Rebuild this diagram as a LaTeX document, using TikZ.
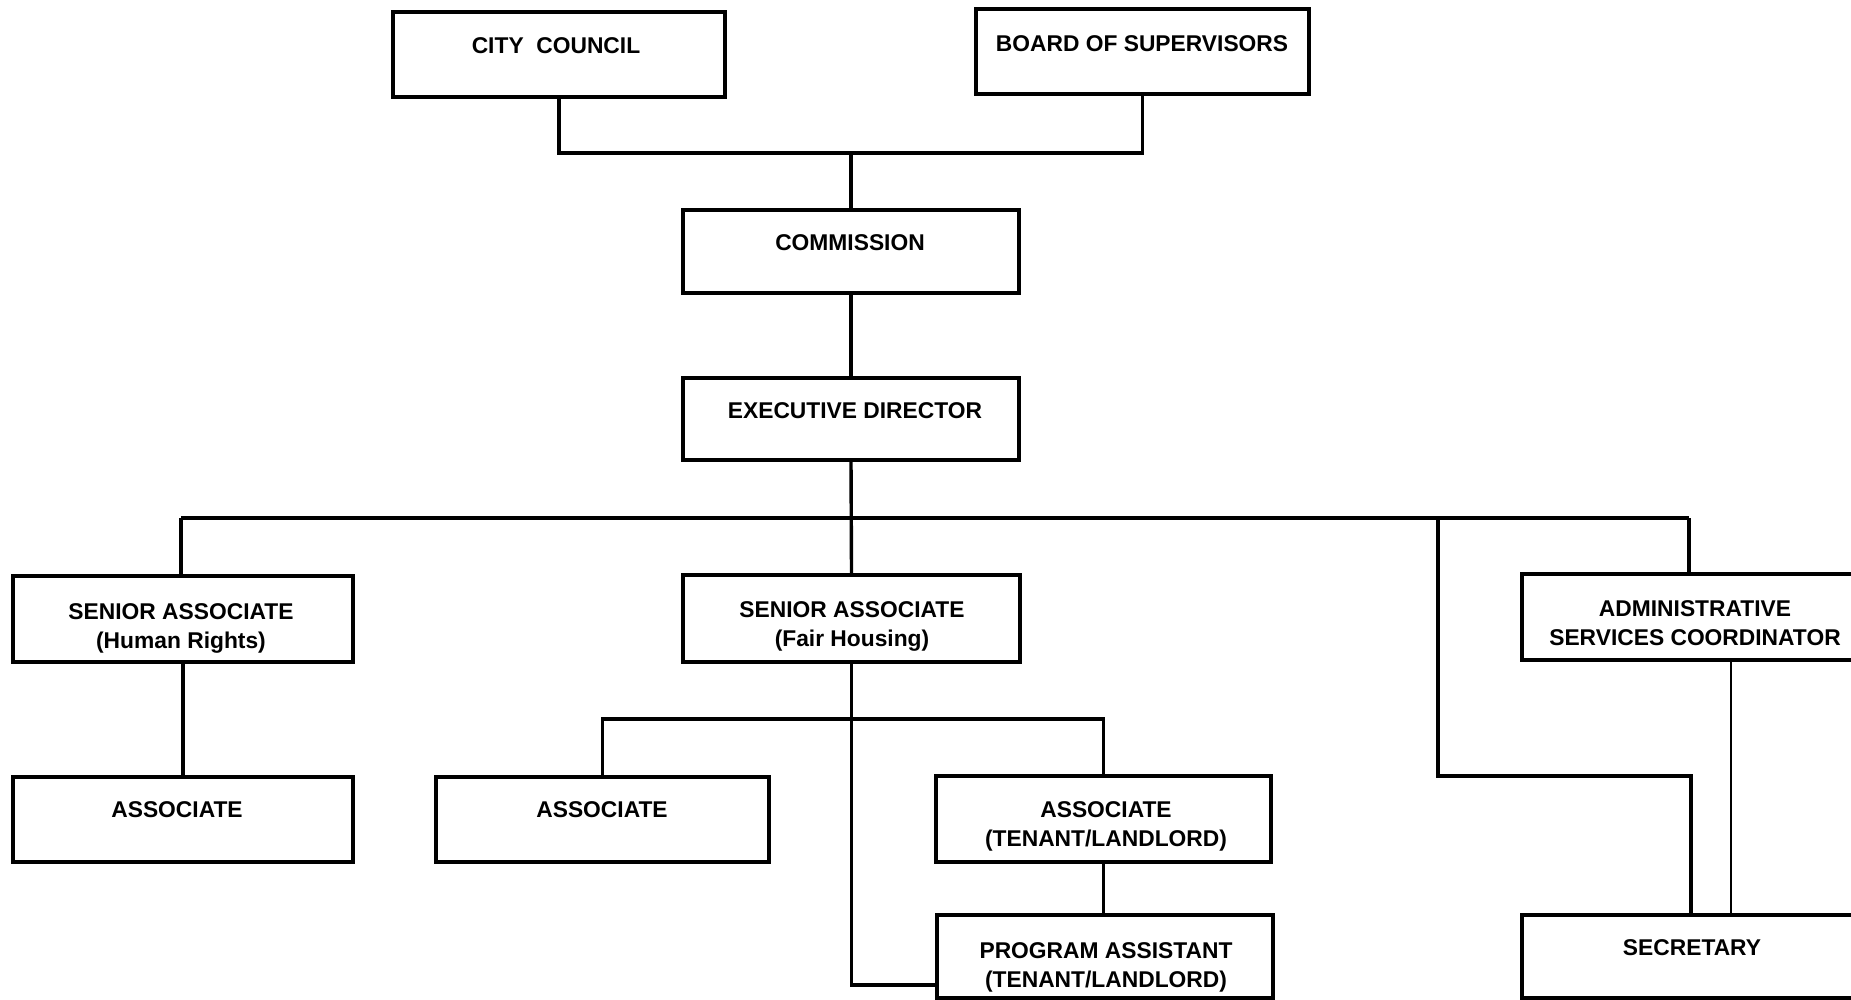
\documentclass[tikz,border=0pt]{standalone}
\usepackage{fontspec}
\setmainfont{Liberation Sans}
\begin{document}
\begin{tikzpicture}[x=1pt,y=-1pt,
  box/.style={draw, line width=3.2pt, rectangle, inner sep=0pt, minimum width=#1},
  box/.default=336,
  lbl/.style={inner sep=0pt, align=center, font=\fontsize{22.8}{29}\selectfont\bfseries},
  conn/.style={line width=3.4pt}]
\useasboundingbox (0,0) rectangle (1851,1000);
\clip (0,0) rectangle (1851,1000);
\fill[white] (0,0) rectangle (1851,1000);

% boxes
\node[box=332, minimum height=85] (cc)  at (559,54.5) {};
\node[box=333, minimum height=85] (bos) at (1142.5,51.5) {};
\node[box=336, minimum height=83] (com) at (851,251.5) {};
\node[box=336, minimum height=82] (ed)  at (851,419) {};
\node[box=340, minimum height=86] (sahr) at (183,619) {};
\node[box=337, minimum height=87] (safh) at (851.5,618.5) {};
\node[box=342, minimum height=86] (adm)  at (1693,617) {};
\node[box=340, minimum height=85] (ashr) at (183,819.5) {};
\node[box=333, minimum height=85] (as)   at (602.5,819.5) {};
\node[box=335, minimum height=86] (astl) at (1103.5,819) {};
\node[box=336, minimum height=83] (pa)   at (1105,956.5) {};
\node[box=342, minimum height=83] (sec)  at (1693,956.5) {};

% labels
\node[lbl] (cct)   at (556,46) {CITY\ \ COUNCIL};
\node[lbl] (bost)  at (1142,44) {BOARD OF SUPERVISORS};
\node[lbl] (comt)  at (850,243) {COMMISSION};
\node[lbl] (edt)   at (855,411) {EXECUTIVE DIRECTOR};
\node[lbl] (sahrt) at (181,628) {SENIOR ASSOCIATE\\(Human Rights)};
\node[lbl] (safht) at (852,626) {SENIOR ASSOCIATE\\(Fair Housing)};
\node[lbl] (admt)  at (1695,623) {ADMINISTRATIVE\\SERVICES COORDINATOR};
\node[lbl] (ashrt) at (177,810) {ASSOCIATE};
\node[lbl] (ast)   at (602,810) {ASSOCIATE};
\node[lbl] (astlt) at (1106,826) {ASSOCIATE\\(TENANT/LANDLORD)};
\node[lbl] (pat)   at (1106,967) {PROGRAM ASSISTANT\\(TENANT/LANDLORD)};
\node[lbl] (sect)  at (1692,948) {SECRETARY};

% junction coordinates
\coordinate (top) at (851,153);
\coordinate (busL) at (181,518);
\coordinate (busR) at (1689,518);
\coordinate (busS) at (1438,518);
\coordinate (sbend) at (1438,776);
\coordinate (sdown) at (1691,776);
\coordinate (fhL) at (602.5,719);
\coordinate (fhR) at (1103.5,719);
\coordinate (fhlow) at (851.5,985);
\coordinate (admsec) at (1731,660);

% connectors
\draw[conn] (cc.south) -- (cc.south |- top) -- (bos.south |- top) -- (bos.south);
\draw[conn] (top) -- (com.north);
\draw[conn] (com.south) -- (ed.north);
\draw[conn] (ed.south) -- (safh.north);
\draw[conn] (busL) -- (busR);
\draw[conn] (busL) -- (busL |- sahr.north);
\draw[conn] (busR) -- (busR |- adm.north);
\draw[conn] (busS) -- (sbend) -- (sdown) -- (sdown |- sec.north);
\draw[conn] (sahr.south) -- (ashr.north);
\draw[conn] (safh.south) -- (fhlow) -- (pa.west |- fhlow);
\draw[conn] (fhL |- as.north) -- (fhL) -- (fhR) -- (astl.north);
\draw[conn] (astl.south) -- (astl.south |- pa.north);
\draw[conn, line width=2.6pt] (admsec) -- (admsec |- sec.north);
\end{tikzpicture}
\end{document}
